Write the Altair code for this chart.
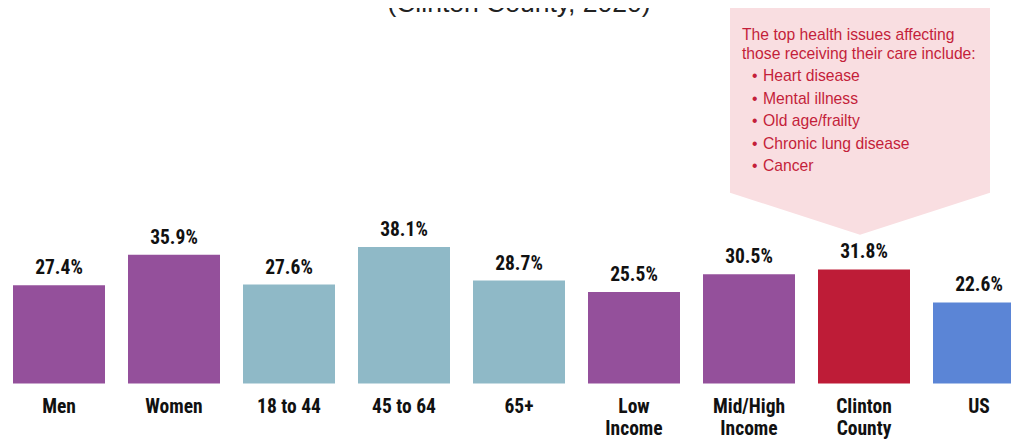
import altair as alt
import pandas as pd

# ---- data ----
categories = ["Men", "Women", "18 to 44", "45 to 64", "65+",
              "Low Income", "Mid/High Income", "Clinton County", "US"]
label_lines = [["Men"], ["Women"], ["18 to 44"], ["45 to 64"], ["65+"],
               ["Low", "Income"], ["Mid/High", "Income"], ["Clinton", "County"], ["US"]]
values = [27.4, 35.9, 27.6, 38.1, 28.7, 25.5, 30.5, 31.8, 22.6]
groups = ["Gender", "Gender", "Age", "Age", "Age", "Income", "Income", "County", "US"]

group_names = ["Gender", "Age", "Income", "County", "US"]
group_colors = ["#94509B", "#8FB9C7", "#94509B", "#BE1C37", "#5B85D6"]

title_text = "(Clinton County, 2020)"
callout_head = ["The top health issues affecting", "those receiving their care include:"]
callout_items = ["Heart disease", "Mental illness", "Old age/frailty",
                 "Chronic lung disease", "Cancer"]

df = pd.DataFrame({"category": categories, "value": values,
                   "group": groups, "lines": label_lines})

W, H = 1003, 432
NARROW = "Liberation Sans Narrow, Arial Narrow, Roboto Condensed, Liberation Sans, Arial"
SANS = "Liberation Sans, Arial, Helvetica, sans-serif"

x_enc = alt.X("category:N", sort=categories, axis=None,
              scale=alt.Scale(range=[-6.5, 1028.5], paddingInner=0.2, paddingOuter=0.1))
y_scale = alt.Scale(domain=[0, 100], range=[375.5, 17])

base = alt.Chart(df)

bars = base.mark_bar(clip=True).encode(
    x=x_enc,
    y=alt.Y("value:Q", scale=y_scale, axis=None),
    color=alt.Color("group:N", scale=alt.Scale(domain=group_names, range=group_colors),
                    legend=None),
)

value_labels = base.transform_calculate(
    label="format(datum.value, '.1f') + '%'"
).mark_text(
    font=NARROW, fontSize=19.5, fontWeight="bold", color="#111111",
    baseline="alphabetic", dy=-11,
).encode(
    x=x_enc,
    y=alt.Y("value:Q", scale=y_scale),
    text="label:N",
)

cat_labels = base.mark_text(
    font=NARROW, fontSize=19.5, fontWeight="bold", color="#111111",
    baseline="alphabetic", lineHeight=22.5,
).encode(
    x=x_enc,
    y=alt.value(404.7),
    text="lines",
)

shape_path = "M-1,-0.872L1,-0.872L1,0.549L0,0.872L-1,0.549Z"
callout_df = pd.DataFrame({"note": ["callout"]})
callout_shape = alt.Chart(callout_df).mark_point(
    shape=shape_path, filled=True, opacity=1, size=67600,
    fill="#F9DEE1", strokeWidth=0,
).encode(x=alt.value(852), y=alt.value(113.35))

head_df = pd.DataFrame({"lines": [callout_head]})
callout_header = alt.Chart(head_df).mark_text(
    font=SANS, fontSize=15.7, color="#C41E3A", align="left",
    baseline="alphabetic", lineHeight=19,
).encode(x=alt.value(734), y=alt.value(32), text="lines")

items_df = pd.DataFrame({"lines": [callout_items],
                         "bullets": [["•"] * len(callout_items)]})
callout_bullets = alt.Chart(items_df).mark_text(
    font=SANS, fontSize=15.7, color="#C41E3A", align="left",
    baseline="alphabetic", lineHeight=22.5,
).encode(x=alt.value(744), y=alt.value(73), text="bullets")
callout_list = alt.Chart(items_df).mark_text(
    font=SANS, fontSize=15.7, color="#C41E3A", align="left",
    baseline="alphabetic", lineHeight=22.5,
).encode(x=alt.value(755), y=alt.value(73), text="lines")

title_df = pd.DataFrame({"t": [title_text]})
title = alt.Chart(title_df).mark_text(
    font=SANS, fontSize=26.5, color="#222222", align="center", baseline="alphabetic",
).encode(x=alt.value(511), y=alt.value(4), text="t")

chart = alt.layer(
    callout_shape, bars, value_labels, cat_labels,
    callout_header, callout_bullets, callout_list, title,
).properties(
    width=W, height=H, padding=0,
    autosize=alt.AutoSizeParams(type="none"),
).configure_view(stroke=None)

chart.save("out.html", embed_options={"renderer": "svg", "actions": False})
